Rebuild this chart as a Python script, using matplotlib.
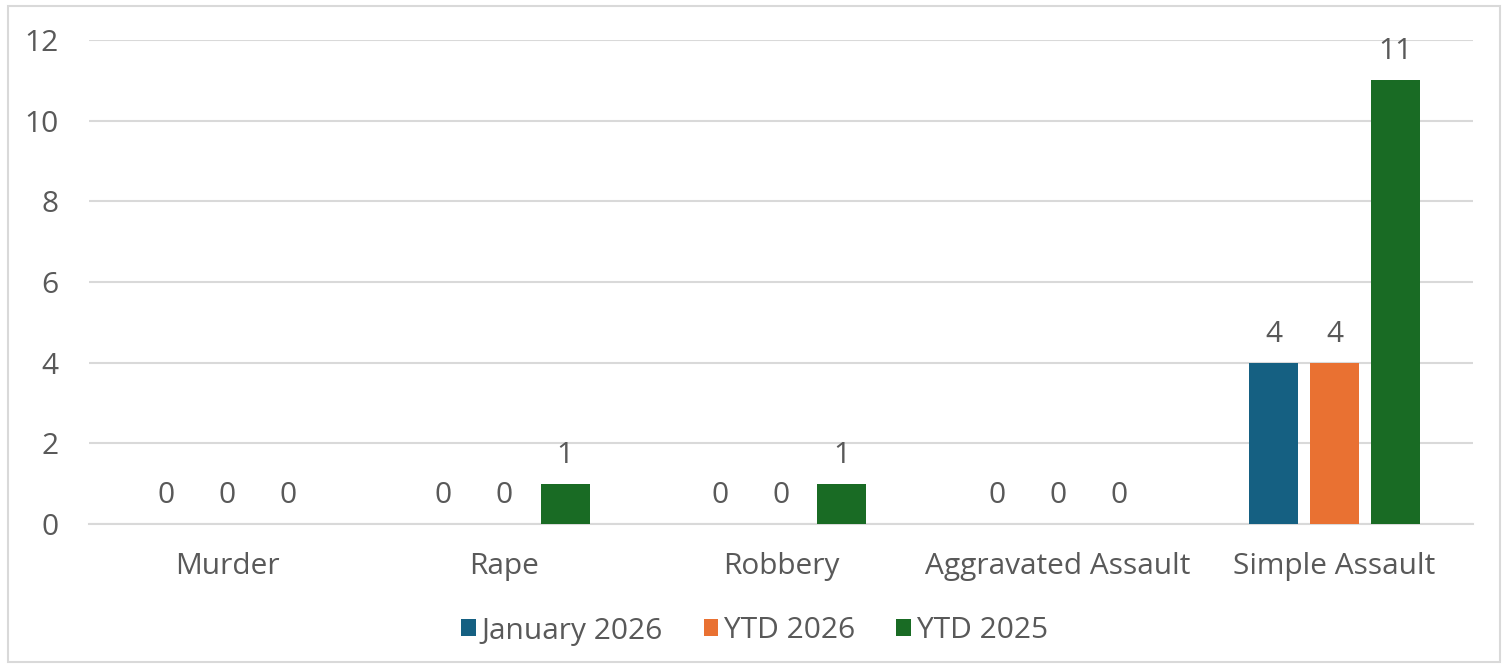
import matplotlib.pyplot as plt
import numpy as np
from matplotlib.patches import Rectangle

categories = ["Murder", "Rape", "Robbery", "Aggravated Assault", "Simple Assault"]
series_names = ["January 2026", "YTD 2026", "YTD 2025"]
january_2026 = [0, 0, 0, 0, 4]
ytd_2026 = [0, 0, 0, 0, 4]
ytd_2025 = [0, 1, 1, 0, 11]
series_colors = ["#156082", "#E97132", "#196B24"]

TEXT = "#595959"
GRID = "#D9D9D9"
FS = 21.5
plt.rcParams["font.family"] = ["Open Sans", "DejaVu Sans"]

fig = plt.figure(figsize=(15.09, 6.68), dpi=100)
ax = fig.add_axes([89 / 1509, 144 / 668, (1473 - 89) / 1509, (628 - 144) / 668])

x = np.arange(len(categories))
width = 0.177
step = 0.22
for i, (vals, name, color) in enumerate(zip([january_2026, ytd_2026, ytd_2025], series_names, series_colors)):
    bars = ax.bar(x + (i - 1) * step, vals, width, color=color, label=name, zorder=3)
    ax.bar_label(bars, labels=[str(v) for v in vals], padding=10, fontsize=FS, color=TEXT)

ax.set_xlim(-0.5, len(categories) - 0.5)
ax.set_ylim(0, 12)
ax.set_yticks(range(0, 13, 2))
ax.set_xticks(x)
ax.set_xticklabels(categories)
ax.yaxis.grid(True, color=GRID, linewidth=1.5, zorder=0)
ax.tick_params(axis="both", length=0, labelsize=FS, colors=TEXT)
ax.tick_params(axis="y", pad=22)
ax.tick_params(axis="x", pad=20.5)
for side in ["left", "right", "top"]:
    ax.spines[side].set_visible(False)
ax.spines["bottom"].set_color(GRID)
ax.spines["bottom"].set_linewidth(1.5)

fig.legend(loc="center", bbox_to_anchor=(0.5, 1 - 631 / 668), ncol=3, frameon=False,
           fontsize=FS, labelcolor=TEXT, handlelength=0.5, handleheight=0.5,
           handletextpad=0.2, columnspacing=1.35)

fig.patches.append(Rectangle((8 / 1509, 6 / 668), 1492 / 1509, 656 / 668, transform=fig.transFigure,
                             fill=False, edgecolor=GRID, linewidth=1.5))

fig.savefig("out.png", dpi=100)
